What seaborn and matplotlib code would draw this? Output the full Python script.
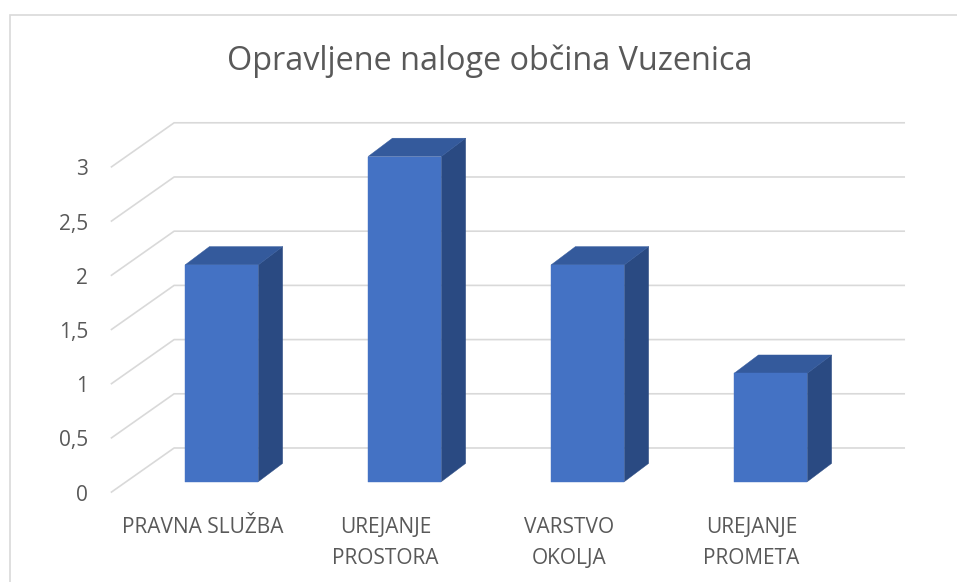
import matplotlib
matplotlib.use("Agg")
import matplotlib.pyplot as plt
import seaborn as sns
from matplotlib.patches import Polygon, Rectangle

# podatki
kategorije = ["PRAVNA SLUŽBA", "UREJANJE\nPROSTORA", "VARSTVO\nOKOLJA", "UREJANJE\nPROMETA"]
nalog = [2, 3, 2, 1]
y_ticks = [0, 0.5, 1, 1.5, 2, 2.5, 3]
y_labels = ["0", "0,5", "1", "1,5", "2", "2,5", "3"]
naslov = "Opravljene naloge občina Vuzenica"

# barve
C_FRONT = "#4472C4"
C_TOP = "#345A9C"
C_SIDE = "#2A4A82"
C_GRID = "#D9D9D9"
C_TEXT = "#595959"

# geometrija (pikslov na enoto)
W, H = 957, 582
PX_X = 183.0
PX_Y = 108.4
X0 = 221.7   # sredina prvega stolpca
Y0 = 481.7   # osnova stolpcev
XLIM = (-0.692, 3.85)
YLIM = (-0.30, 3.50)
FRONT = (-0.084, -0.100)
BACK = (0.262, 0.311)
WALL = (-0.522, 3.472)
DEPTH = (0.133, 0.169)
BAR_W = 0.40

sns.set_style("white")
plt.rcParams["font.family"] = ["Open Sans", "DejaVu Sans"]

fig = plt.figure(figsize=(W / 100, H / 100), dpi=100)
left = X0 + XLIM[0] * PX_X
right = X0 + XLIM[1] * PX_X
bottom = Y0 - YLIM[0] * PX_Y
top = Y0 - YLIM[1] * PX_Y
ax = fig.add_axes([left / W, 1 - bottom / H, (right - left) / W, (bottom - top) / H])

sns.barplot(x=list(range(len(nalog))), y=nalog, color=C_FRONT, saturation=1,
            width=BAR_W, edgecolor=C_FRONT, linewidth=0.3, ax=ax, zorder=3)

# mreza (3D stena)
for v in y_ticks:
    xs = [WALL[0] + FRONT[0], WALL[0] + BACK[0], WALL[1] + BACK[0]]
    ys = [v + FRONT[1], v + BACK[1], v + BACK[1]]
    ax.plot(xs, ys, color=C_GRID, lw=1.2, zorder=1, solid_capstyle="butt")

# stranice in vrhovi stolpcev
dx, dy = DEPTH
for p in list(ax.patches):
    x0 = p.get_x()
    x1 = x0 + p.get_width()
    h = p.get_height()
    side = Polygon([(x1, 0), (x1 + dx, dy), (x1 + dx, h + dy), (x1, h)],
                   closed=True, facecolor=C_SIDE, edgecolor=C_SIDE, lw=0.3, zorder=2.9)
    vrh = Polygon([(x0, h), (x1, h), (x1 + dx, h + dy), (x0 + dx, h + dy)],
                  closed=True, facecolor=C_TOP, edgecolor=C_TOP, lw=0.3, zorder=2.9)
    ax.add_patch(side)
    ax.add_patch(vrh)

ax.set_xlim(*XLIM)
ax.set_ylim(*YLIM)
ax.set_yticks([v + FRONT[1] for v in y_ticks])
ax.set_yticklabels(y_labels)
ax.set_xticks([i + FRONT[0] - 0.02 for i in range(len(kategorije))])
ax.set_xticklabels(kategorije)
ax.tick_params(axis="y", length=0, pad=5, labelsize=15, labelcolor=C_TEXT)
ax.tick_params(axis="x", length=0, pad=2, labelsize=15, labelcolor=C_TEXT)
for t in ax.get_xticklabels():
    t.set_linespacing(1.6)
ax.set_xlabel("")
ax.set_ylabel("")
sns.despine(ax=ax, left=True, bottom=True)

fig.text(490 / W, 1 - 61 / H, naslov, ha="center", va="center",
         fontsize=23.3, color=C_TEXT)

# okvir grafikona
fig.patches.append(Rectangle((9.5 / W, -0.1), 1.1, 1 - 15 / H + 0.1,
                             transform=fig.transFigure, fill=False,
                             edgecolor=C_GRID, lw=1.2))

fig.savefig("out.png", dpi=100)
